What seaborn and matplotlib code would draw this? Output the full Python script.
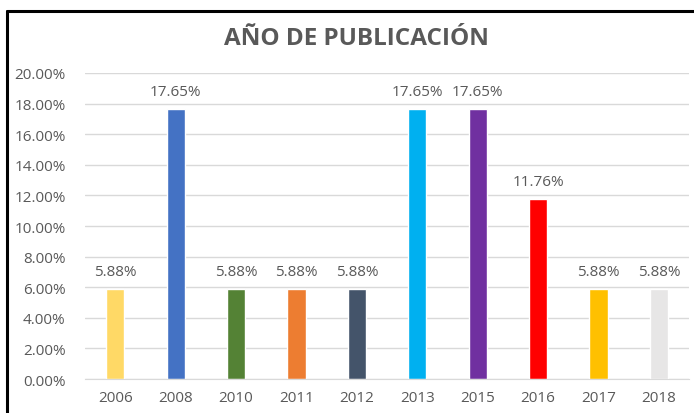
import matplotlib
matplotlib.use("Agg")
import matplotlib.pyplot as plt
import seaborn as sns
import pandas as pd
from matplotlib.lines import Line2D
from matplotlib.ticker import PercentFormatter

years = ["2006", "2008", "2010", "2011", "2012", "2013", "2015", "2016", "2017", "2018"]
shares = [5.88, 17.65, 5.88, 5.88, 5.88, 17.65, 17.65, 11.76, 5.88, 5.88]
colors = ["#FFD966", "#4472C4", "#548235", "#ED7D31", "#44546A",
          "#00B0F0", "#7030A0", "#FF0000", "#FFC000", "#E7E6E6"]

df = pd.DataFrame({"year": years, "share": [s / 100 for s in shares]})

sns.set_style("white")
plt.rcParams["font.family"] = ["Open Sans", "DejaVu Sans"]
text_grey = "#595959"

fig = plt.figure(figsize=(6.94, 4.14), dpi=100)
ax = fig.add_axes([0.1225, 0.082, 0.8705, 0.7393])

sns.barplot(data=df, x="year", y="share", hue="year", palette=colors,
            legend=False, width=0.3, saturation=1, ax=ax)

for cont in ax.containers:
    ax.bar_label(cont, labels=[f"{v * 100:.2f}%" for v in cont.datavalues],
                 padding=7, fontsize=11, color=text_grey)

ax.set_ylim(0, 0.2)
ax.set_xlim(-0.5, 9.5)
ax.set_yticks([i * 0.02 for i in range(11)])
ax.yaxis.set_major_formatter(PercentFormatter(1.0, decimals=2))
ax.grid(axis="y", color="#D9D9D9", linewidth=1)
ax.set_axisbelow(True)
for side in ["top", "right", "left"]:
    ax.spines[side].set_visible(False)
ax.spines["bottom"].set_color("#D9D9D9")
ax.tick_params(axis="both", length=0, labelsize=11, colors=text_grey, pad=8)
ax.tick_params(axis="y", pad=14)
ax.set_xlabel("")
ax.set_ylabel("")

fig.text(0.513, 0.906, "AÑO DE PUBLICACIÓN", ha="center", va="center",
         fontsize=17.5, fontweight="bold", color=text_grey)

# black frame on the left and top edges
fig.add_artist(Line2D([0.0108, 0.0108], [0, 0.9722], color="black", linewidth=2.2,
                      transform=fig.transFigure))
fig.add_artist(Line2D([0.0108, 1.0], [0.9722, 0.9722], color="black", linewidth=2.2,
                      transform=fig.transFigure))

fig.savefig("out.png", dpi=100)
